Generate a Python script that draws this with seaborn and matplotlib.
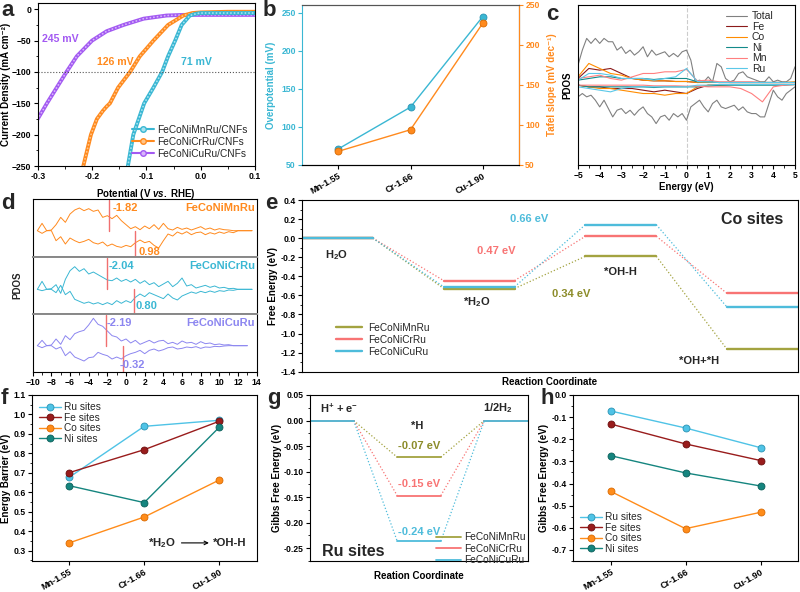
import numpy as np
import pandas as pd
import matplotlib
matplotlib.use("Agg")
import matplotlib.pyplot as plt
import seaborn as sns
from matplotlib.lines import Line2D
from matplotlib.ticker import MultipleLocator, FormatStrFormatter

sns.set_theme(style="ticks")
plt.rcParams['font.family'] = ['Liberation Sans', 'DejaVu Sans']
plt.rcParams.update({
    'font.size': 6.5, 'font.weight': 'bold', 'axes.labelweight': 'bold',
    'axes.linewidth': 0.8, 'xtick.major.width': 0.8, 'ytick.major.width': 0.8,
    'xtick.minor.width': 0.6, 'ytick.minor.width': 0.6,
    'xtick.major.size': 3, 'ytick.major.size': 3, 'xtick.minor.size': 1.8, 'ytick.minor.size': 1.8,
    'xtick.labelsize': 6.2, 'ytick.labelsize': 6.2, 'axes.labelsize': 7,
    'xtick.direction': 'out', 'ytick.direction': 'out', 'axes.edgecolor': 'black',
    'xtick.major.pad': 1.5, 'ytick.major.pad': 1.5, 'axes.labelpad': 1.5,
    'mathtext.fontset': 'custom', 'mathtext.rm': 'Liberation Sans:bold',
    'mathtext.it': 'Liberation Sans:italic:bold', 'mathtext.bf': 'Liberation Sans:bold',
    'mathtext.default': 'rm',
    'xtick.color': 'black', 'ytick.color': 'black', 'axes.labelcolor': 'black',
})

# ---------------- data ----------------
# panel a : LSV curves (V vs RHE, mA cm-2)
a_mn_v = [-0.134, -0.124, -0.104, -0.087, -0.071, -0.060, -0.047, -0.035, -0.020, -0.008, 0.0, 0.05, 0.1]
a_mn_j = [-250, -200, -150, -125, -100, -75, -50, -25, -10, -7, -6, -6, -6]
a_cr_v = [-0.216, -0.202, -0.191, -0.180, -0.173, -0.167, -0.152, -0.130, -0.112, -0.087, -0.060, -0.032, -0.015, 0.0, 0.05, 0.1]
a_cr_j = [-250, -200, -175, -162, -155, -150, -125, -100, -75, -50, -25, -10, -6, -5, -4, -4]
a_cu_v = [-0.300, -0.283, -0.265, -0.247, -0.228, -0.200, -0.173, -0.142, -0.105, -0.063, -0.032, 0.0, 0.05, 0.1]
a_cu_j = [-175, -150, -125, -100, -75, -50, -35, -25, -15, -10, -9, -9, -9, -9]
a_labels = ["FeCoNiMnRu/CNFs", "FeCoNiCrRu/CNFs", "FeCoNiCuRu/CNFs"]

# panel b
b_cats = ["Mn-1.55", "Cr-1.66", "Cu-1.90"]
b_overpot = [71, 126, 245]
b_tafel = [67, 94, 227]

# panel c : PDOS
c_energy_total = [-5.0, -4.8, -4.6, -4.4, -4.2, -4.0, -3.8, -3.6, -3.4, -3.2, -3.0, -2.8, -2.6, -2.4, -2.2,
                  -2.0, -1.8, -1.6, -1.4, -1.2, -1.0, -0.8, -0.6, -0.4, -0.2, 0.0, 0.2, 0.4, 0.6, 0.8,
                  1.0, 1.2, 1.4, 1.6, 1.8, 2.0, 2.2, 2.4, 2.6, 2.8, 3.0, 3.2, 3.4, 3.6, 3.8, 4.0, 4.2,
                  4.4, 4.6, 4.8, 5.0]
c_total_up = [5.5, 10, 13.5, 12, 13.5, 12, 13.5, 12.5, 12.5, 10, 11, 9, 10, 8.5, 9.5, 11, 8, 10, 8.5, 9,
              9.5, 8, 9, 8, 9.5, 10, 7, 0.5, 1, 0.5, 2, 0.5, 6, 5, 1.5, 0.5, 1, 3, 3.5, 2, 1.5, 1, 0.5,
              0.5, 2, 0.5, 1, 0.5, 0.5, 1.5, 5]
c_total_dn = [-4, -3, -4, -3.5, -5, -7, -5, -7.5, -10, -8, -7.5, -9, -8, -9.5, -8, -7, -9, -10, -12, -10,
              -9.5, -11, -9, -10, -9, -11, -7, -6, -5, -7, -8.5, -6, -5, -7, -7.5, -7, -6.5, -8, -7,
              -8.5, -9, -9, -10, -10, -6, -2, -4, -5, -3, -2, -1]
c_energy_el = [-5.0, -4.5, -4.0, -3.5, -3.0, -2.5, -2.0, -1.5, -1.0, -0.5, 0.0, 0.5, 1.0, 1.5, 2.0, 2.5,
               3.0, 3.5, 4.0, 4.5, 5.0]
c_fe_up = [1.5, 4.5, 4, 4.5, 3, 1.5, 1, 0.8, 0.8, 0.6, 0.6, 0.3, 0.4, 0.3, 0.3, 0.3, 0.3, 0.3, 0.3, 0.3, 0.3]
c_co_up = [2, 6, 4.5, 3, 2.5, 1.5, 1, 0.8, 0.8, 0.6, 0.6, 0.3, 0.3, 0.3, 0.3, 0.3, 0.3, 0.3, 0.3, 0.3, 0.5]
c_ni_up = [1, 1.5, 2, 2, 1.5, 1.5, 1.5, 1.2, 1.5, 1.5, 1.5, 0.5, 0.5, 0.3, 0.3, 0.3, 0.3, 0.3, 0.3, 0.3, 0.3]
c_mn_up = [1.5, 2, 2.5, 1.5, 1, 2, 3, 3, 3.5, 3.5, 4.2, 0.8, 1, 0.5, 0.5, 0.5, 0.5, 0.3, 0.3, 0.3, 0.3]
c_ru_up = [1, 3, 3, 2.5, 1.5, 1.5, 1.5, 1, 1.5, 2, 4.5, 0.6, 0.5, 0.3, 0.3, 0.3, 0.3, 0.3, 0.3, 0.3, 0.3]
c_fe_dn = [-0.5, -1, -1, -1.5, -1.5, -1.5, -2, -2.5, -2, -2.5, -3, -1.5, -0.5, -0.5, -0.3, -0.3, -0.3, -0.3, -0.3, -0.3, -0.3]
c_co_dn = [-0.5, -1, -1.5, -1.5, -2, -2.5, -3, -3, -3.5, -3, -3, -1, -0.5, -0.5, -0.3, -0.3, -0.3, -0.3, -0.3, -0.3, -0.3]
c_ni_dn = [-0.5, -1, -1, -1, -1, -1, -1, -1.2, -1, -1, -1, -1, -0.8, -0.5, -0.5, -0.5, -0.5, -0.5, -0.5, -0.5, -0.3]
c_mn_dn = [-0.5, -0.5, -0.5, -0.5, -0.5, -0.5, -0.5, -0.7, -0.7, -0.7, -0.8, -0.8, -1, -1, -1, -1.5, -3, -5.5, -1, -0.5, -0.3]
c_ru_dn = [-1, -1.5, -2, -2.5, -1.5, -1, -1, -1, -1, -1, -1, -0.5, -0.5, -0.3, -0.3, -0.3, -0.3, -0.3, -0.3, -0.3, -0.3]
c_names = ["Total", "Fe", "Co", "Ni", "Mn", "Ru"]

# panel d : d-band PDOS of the three alloys
d_energy = [-9.5, -9.0, -8.5, -8.0, -7.5, -7.0, -6.5, -6.0, -5.5, -5.0, -4.5, -4.0, -3.5, -3.0, -2.5, -2.0,
            -1.5, -1.0, -0.5, 0.0, 0.5, 1.0, 1.5, 2.0, 2.5, 3.0, 3.5, 4.0, 4.5, 5.0, 5.5, 6.0, 6.5, 7.0,
            7.5, 8.0, 8.5, 9.0, 9.5, 10.0, 10.5, 11.0, 11.5, 12.0, 12.5, 13.0, 13.5]
d_mn_up = [0, 22, 0, 2, 18, 40, 25, 50, 62, 68, 60, 66, 58, 62, 40, 45, 36, 46, 30, 18, 6, 12, 3, 14, 6, 18,
           4, 22, 6, 2, 10, 4, 8, 2, 7, 12, 4, 8, 2, 6, 3, 2, 0, 0, 0, 0, 0]
d_mn_dn = [0, -8, 0, 0, -30, -18, -40, -22, -30, -36, -32, -26, -36, -40, -34, -46, -40, -47, -50, -44, -48,
           -36, -28, -36, -32, -44, -52, -30, -10, -16, -4, -10, -3, -12, -6, -4, -12, -6, -10, -4, -8, -3,
           -6, 0, 0, 0, 0]
d_cr_up = [0, 24, 0, 2, 14, -12, 30, 56, 68, 54, 62, 46, 52, 44, 36, 28, 26, 34, 24, 30, 22, 30, 18, 26, 14,
           20, 8, 16, 24, 8, 18, 34, 10, 14, 4, 8, 12, 6, 10, 4, 6, 2, 3, 0, 0, 0, 0]
d_cr_dn = [0, -4, 0, 0, -10, 12, -16, -6, -30, -36, -42, -38, -44, -40, -46, -40, -46, -34, -42, -34, -40,
           -24, -14, -22, -10, -16, -22, -28, -14, -26, -32, -20, -14, -8, -12, -6, -10, -5, -9, -4, -6, -2,
           -3, 0, 0, 0, 0]
d_cu_up = [0, 16, 0, 2, 20, 4, 30, 18, 36, 42, 46, 62, 82, 64, 58, 44, 30, 26, 14, 20, 8, 16, 4, 10, 16, 8,
           14, 16, 6, 10, 4, 14, 8, 10, 4, 12, 6, 8, 3, 5, 2, 3, 0, 0, 0, 0, np.nan]
d_cu_dn = [0, -6, 0, 0, -10, -4, -30, -18, -34, -40, -46, -36, -34, -20, -26, -30, -40, -34, -40, -30, -24,
           -20, -14, -24, -14, -10, -16, -12, -6, -4, -10, -8, -4, -6, -3, -8, -4, -5, -2, -3, -1, 0, 0, 0,
           0, 0, np.nan]
d_names = ["FeCoNiMnRu", "FeCoNiCrRu", "FeCoNiCuRu"]
d_center_up = [-1.82, -2.04, -2.19]
d_center_dn = [0.98, 0.80, -0.32]

# panel e : free energy diagram, Co sites
e_steps = ["H$_2$O", "*H$_2$O", "*OH-H", "*OH+*H"]
e_mn = [0.0, -0.528, -0.19, -1.166]
e_cr = [0.0, -0.445, 0.02, -0.58]
e_cu = [0.0, -0.51, 0.141, -0.724]
e_names = ["FeCoNiMnRu", "FeCoNiCrRu", "FeCoNiCuRu"]
e_barriers = ["0.34 eV", "0.47 eV", "0.66 eV"]

# panel f : energy barrier
f_cats = ["Mn-1.55", "Cr-1.66", "Cu-1.90"]
f_ru = [0.677, 0.939, 0.970]
f_fe = [0.701, 0.819, 0.965]
f_co = [0.340, 0.473, 0.663]
f_ni = [0.634, 0.547, 0.934]

# panel g : HER on Ru sites
g_mn = -0.0717
g_cr = -0.147
g_cu = -0.236
g_labels = ["-0.07 eV", "-0.15 eV", "-0.24 eV"]

# panel h : Gibbs free energy of H
h_cats = ["Mn-1.55", "Cr-1.66", "Cu-1.90"]
h_ru = [-0.072, -0.149, -0.238]
h_fe = [-0.131, -0.221, -0.296]
h_co = [-0.435, -0.604, -0.530]
h_ni = [-0.274, -0.352, -0.411]
site_names = ["Ru sites", "Fe sites", "Co sites", "Ni sites"]

# ---------------- colours ----------------
CY, CY_L = '#3AB7D3', '#A6E3F0'
OR, OR_L = '#FF8A1E', '#FFC58A'
PU, PU_L = '#A35AF2', '#D7B6FA'
LAV = '#8C86F0'
RED_LINE = '#F07070'
E_MN, E_CR, E_CU = '#A3A340', '#F87474', '#4EBCDB'
S_RU, S_FE, S_CO, S_NI = '#4FC3E6', '#991C1C', '#FF8C1A', '#15857F'
S_RU_E, S_FE_E, S_CO_E, S_NI_E = '#2A93B3', '#6A0E0E', '#D96A00', '#0B5E59'

W, H = 800, 592
fig = plt.figure(figsize=(8, 5.92), dpi=100)


def add_ax(l, t, r, b):
    return fig.add_axes([l / W, 1 - b / H, (r - l) / W, (b - t) / H])


def plab(x, y, s):
    fig.text(x / W, 1 - y / H, s, fontsize=16, fontweight='bold', va='top', ha='left')


def rot_labels(ax):
    for lab in ax.get_xticklabels():
        lab.set_rotation(30)
        lab.set_ha('right')
        lab.set_rotation_mode('anchor')
        lab.set_fontsize(6.5)


# ================= panel a =================
ax = add_ax(37.7, 3, 255, 166)
for v, j, c, cl in [(a_cu_v, a_cu_j, PU, PU_L), (a_cr_v, a_cr_j, OR, OR_L), (a_mn_v, a_mn_j, CY, CY_L)]:
    sns.lineplot(x=v, y=j, ax=ax, color=c, lw=2.8, estimator=None, sort=True)
    ax.plot(v, j, color=cl, lw=1.3, dashes=(0.1, 1.9), dash_capstyle='round')
ax.axhline(-100, color='#555555', ls=':', lw=0.8)
ax.set_xlim(-0.3, 0.1)
ax.set_ylim(-250, 10)
ax.xaxis.set_major_locator(MultipleLocator(0.1))
ax.xaxis.set_minor_locator(MultipleLocator(0.05))
ax.yaxis.set_major_locator(MultipleLocator(50))
ax.yaxis.set_minor_locator(MultipleLocator(25))
ax.xaxis.set_major_formatter(FormatStrFormatter('%.1f'))
ax.set_xlabel(r"Potential (V $\mathit{vs.}$ RHE)", labelpad=4)
ax.set_ylabel("Current Density (mA cm⁻²)", labelpad=0.5)
ax.text(-0.292, -47, "245 mV", color=PU, fontsize=7.6, va='center')
ax.text(-0.19, -84, "126 mV", color=OR, fontsize=7.6, va='center')
ax.text(-0.037, -84, "71 mV", color=CY, fontsize=7.6, va='center')
hand = [Line2D([], [], color=c, marker='o', ms=4, mfc=cl, mec=c, lw=1.5) for c, cl in
        [(CY, CY_L), (OR, OR_L), (PU, PU_L)]]
ax.legend(hand, a_labels, loc='lower right', handlelength=2.2, handletextpad=0.3, labelspacing=0.2,
          borderaxespad=0.3, frameon=False, prop={'weight': 'normal', 'size': 7.3})
plab(1, 0, "a")

# ================= panel b =================
ax = add_ax(302, 4.7, 519, 165)
sns.lineplot(x=b_cats, y=b_overpot, ax=ax, color=CY, lw=1.0, marker='o', ms=5, mfc=CY, mec=S_RU_E,
             mew=0.6, sort=False)
ax.set_xlim(-0.5, 2.5)
ax.set_ylim(50, 260.5)
ax.yaxis.set_major_locator(MultipleLocator(50))
ax.set_ylabel("Overpotential (mV)", color=CY, labelpad=4)
ax.tick_params(axis='y', colors=CY)
ax.spines['left'].set_color(CY)
ax.spines['top'].set_color('#555555')
ax2 = ax.twinx()
sns.lineplot(x=b_cats, y=b_tafel, ax=ax2, color=OR, lw=1.0, marker='o', ms=5, mfc=OR, mec=S_CO_E,
             mew=0.6, sort=False)
ax2.set_ylim(50, 250)
ax2.yaxis.set_major_locator(MultipleLocator(50))
ax2.set_ylabel("Tafel slope (mV dec⁻¹)", color=OR, labelpad=5)
ax2.tick_params(axis='y', colors=OR)
ax2.spines['right'].set_color(OR)
ax2.spines['left'].set_visible(False)
ax2.spines['top'].set_color('#555555')
ax.set_xlabel("")
rot_labels(ax)
plab(263, 0, "b")

# ================= panel c =================
ax = add_ax(578, 5, 795, 165)
ax.axvline(0, color='#CCCCCC', ls='--', lw=0.8)
c_cols = ['#808080', '#8B1A1A', '#FF8C00', '#138A8A', '#FF7F7F', '#5BC8E8']
sns.lineplot(x=c_energy_total, y=c_total_up, ax=ax, color=c_cols[0], lw=0.8, estimator=None, label=c_names[0])
sns.lineplot(x=c_energy_total, y=c_total_dn, ax=ax, color=c_cols[0], lw=0.8, estimator=None)
for up, dn, col, nm in [(c_fe_up, c_fe_dn, c_cols[1], "Fe"), (c_co_up, c_co_dn, c_cols[2], "Co"),
                        (c_ni_up, c_ni_dn, c_cols[3], "Ni"), (c_mn_up, c_mn_dn, c_cols[4], "Mn"),
                        (c_ru_up, c_ru_dn, c_cols[5], "Ru")]:
    sns.lineplot(x=c_energy_el, y=up, ax=ax, color=col, lw=0.8, estimator=None, label=nm)
    sns.lineplot(x=c_energy_el, y=dn, ax=ax, color=col, lw=0.8, estimator=None)
ax.set_xlim(-5, 5)
ax.set_ylim(-24.4, 23.5)
ax.set_yticks([])
ax.xaxis.set_major_locator(MultipleLocator(1))
ax.xaxis.set_minor_locator(MultipleLocator(0.5))
ax.set_xlabel("Energy (eV)")
ax.set_ylabel("PDOS", labelpad=4)
ax.legend(loc='upper right', bbox_to_anchor=(0.93, 1.0), handlelength=2.0, handletextpad=0.5,
          labelspacing=0.05, borderaxespad=0.2, frameon=False, prop={'weight': 'normal', 'size': 7.5})
plab(546, 4, "c")

# ================= panel d =================
d_bounds = [(199, 256.7), (256.7, 314.3), (314.3, 371.7)]
d_ylims = [(-78, 95), (-75, 98), (-78, 94)]
d_cols = [OR, CY, LAV]
d_ups = [d_mn_up, d_cr_up, d_cu_up]
d_dns = [d_mn_dn, d_cr_dn, d_cu_dn]
d_txt_up = [(-1.43, 69), (-1.9, 71), (-2.07, 67)]
d_txt_dn = [(1.3, -63), (0.97, -50), (-0.64, -58)]
for i in range(3):
    ax = add_ax(32.7, d_bounds[i][0], 256.7, d_bounds[i][1])
    col = d_cols[i]
    sns.lineplot(x=d_energy, y=d_ups[i], ax=ax, color=col, lw=0.7, estimator=None)
    sns.lineplot(x=d_energy, y=d_dns[i], ax=ax, color=col, lw=0.7, estimator=None)
    lo, hi = d_ylims[i]
    ax.set_ylim(lo, hi)
    ax.set_xlim(-10, 14)
    base = (0 - lo) / (hi - lo)
    ax.axvline(d_center_up[i], ymin=base, ymax=0.98, color=RED_LINE, lw=1.0)
    ax.axvline(d_center_dn[i], ymin=0.0, ymax=base, color=RED_LINE, lw=1.0)
    ax.text(*d_txt_up[i], f"{d_center_up[i]:.2f}", color=col, fontsize=8, va='center')
    ax.text(*d_txt_dn[i], f"{d_center_dn[i]:.2f}", color=col, fontsize=8, va='center')
    ax.text(13.8, d_txt_up[i][1], d_names[i], color=col, fontsize=8, va='center', ha='right')
    ax.set_yticks([])
    ax.xaxis.set_major_locator(MultipleLocator(2))
    ax.xaxis.set_minor_locator(MultipleLocator(1))
    if i < 2:
        ax.tick_params(axis='x', which='both', bottom=False, labelbottom=False)
        ax.spines['bottom'].set_color('#888888')
        ax.spines['bottom'].set_linewidth(1.4)
    if i > 0:
        ax.spines['top'].set_color('#888888')
        ax.spines['top'].set_linewidth(1.4)
    ax.set_xlabel("")
fig.text(17 / W, 1 - 285 / H, "PDOS", rotation=90, fontsize=7, fontweight='bold', va='center', ha='center')
plab(1, 193, "d")

# ================= panel e =================
ax = add_ax(302, 200, 798, 371.7)
for E, col, nm in [(e_mn, E_MN, e_names[0]), (e_cr, E_CR, e_names[1]), (e_cu, E_CU, e_names[2])]:
    for k in range(4):
        ax.plot([2 * k, 2 * k + 1], [E[k], E[k]], color=col, lw=1.7, label=nm if k == 0 else None)
    for k in range(3):
        ax.plot([2 * k + 1, 2 * k + 2], [E[k], E[k + 1]], color=col, lw=0.9, ls=':')
ax.set_xlim(0, 7)
ax.set_ylim(-1.4, 0.4)
ax.set_xticks([])
ax.yaxis.set_major_locator(MultipleLocator(0.2))
ax.yaxis.set_minor_locator(MultipleLocator(0.1))
ax.yaxis.set_major_formatter(FormatStrFormatter('%.1f'))
ax.set_xlabel("Reaction Coordinate", labelpad=4)
ax.set_ylabel("Free Energy (eV)")
ax.text(0.48, -0.18, e_steps[0], fontsize=8, ha='center', va='center')
ax.text(2.46, -0.67, e_steps[1], fontsize=8, ha='center', va='center')
ax.text(4.5, -0.36, e_steps[2], fontsize=8, ha='center', va='center')
ax.text(5.6, -1.29, e_steps[3], fontsize=8, ha='center', va='center')
ax.text(3.2, 0.2, e_barriers[2], color=E_CU, fontsize=8, ha='center', va='center')
ax.text(2.74, -0.135, e_barriers[1], color=E_CR, fontsize=8, ha='center', va='center')
ax.text(3.8, -0.585, e_barriers[0], color='#8C8C2A', fontsize=8, ha='center', va='center')
ax.text(6.35, 0.2, "Co sites", fontsize=11.5, ha='center', va='center')
ax.legend(loc='upper left', bbox_to_anchor=(0.06, 0.31), handlelength=2.6, handletextpad=0.6,
          labelspacing=0.2, borderaxespad=0, frameon=False, prop={'weight': 'normal', 'size': 7.3})
plab(265, 193, "e")


# ================= panels f, h helpers =================
def site_lines(ax, cats, series):
    for ys, col, ec, nm in series:
        sns.lineplot(x=cats, y=ys, ax=ax, color=col, lw=1.0, marker='o', ms=5, mfc=col, mec=ec, mew=0.6,
                     sort=False, label=nm)
    ax.set_xlim(-0.5, 2.5)
    ax.set_xlabel("")
    rot_labels(ax)


# ================= panel f =================
ax = add_ax(31.7, 395, 256.7, 561)
site_lines(ax, f_cats, [(f_ru, S_RU, S_RU_E, site_names[0]), (f_fe, S_FE, S_FE_E, site_names[1]),
                        (f_co, S_CO, S_CO_E, site_names[2]), (f_ni, S_NI, S_NI_E, site_names[3])])
ax.set_ylim(0.247, 1.1)
ax.yaxis.set_major_locator(MultipleLocator(0.1))
ax.yaxis.set_minor_locator(MultipleLocator(0.05))
ax.yaxis.set_major_formatter(FormatStrFormatter('%.1f'))
ax.set_ylabel("Energy Barrier (eV)")
ax.legend(loc='upper left', handlelength=2.2, handletextpad=0.3, labelspacing=0.05, borderaxespad=0.3,
          frameon=False, prop={'weight': 'normal', 'size': 7.3})
ax.text(1.42, 0.34, "*H$_2$O", fontsize=8.2, ha='right', va='center')
ax.annotate("", xy=(1.9, 0.34), xytext=(1.46, 0.34),
            arrowprops=dict(arrowstyle='->', color='black', lw=0.8))
ax.text(1.91, 0.34, "*OH-H", fontsize=8.2, ha='left', va='center')
plab(1, 388, "f")

# ================= panel g =================
ax = add_ax(310, 395, 528, 561)
for E, col, nm in [(g_mn, E_MN, e_names[0]), (g_cr, E_CR, e_names[1]), (g_cu, E_CU, e_names[2])]:
    lv = [0.0, E, 0.0]
    for k in range(3):
        ax.plot([2 * k, 2 * k + 1], [lv[k], lv[k]], color=col, lw=1.3, label=nm if k == 1 else None)
    for k in range(2):
        ax.plot([2 * k + 1, 2 * k + 2], [lv[k], lv[k + 1]], color=col, lw=0.9, ls=':')
ax.set_xlim(0, 5)
ax.set_ylim(-0.275, 0.05)
ax.set_xticks([])
ax.yaxis.set_major_locator(MultipleLocator(0.05))
ax.yaxis.set_minor_locator(MultipleLocator(0.025))
ax.yaxis.set_major_formatter(FormatStrFormatter('%.2f'))
ax.set_xlabel("Reation Coordinate", labelpad=7)
ax.set_ylabel("Gibbs Free Energy (eV)")
ax.text(0.23, 0.024, "H$^{+}$ + e$^{-}$", fontsize=8, ha='left', va='center')
ax.text(2.45, -0.011, "*H", fontsize=8, ha='center', va='center')
ax.text(3.97, 0.024, "1/2H$_2$", fontsize=8, ha='left', va='center')
ax.text(2.5, -0.05, g_labels[0], color='#8C8C2A', fontsize=8, ha='center', va='center')
ax.text(2.5, -0.125, g_labels[1], color=E_CR, fontsize=8, ha='center', va='center')
ax.text(2.5, -0.218, g_labels[2], color=E_CU, fontsize=8, ha='center', va='center')
ax.text(0.28, -0.257, "Ru sites", fontsize=11.5, ha='left', va='center')
ax.legend(loc='lower right', bbox_to_anchor=(1.01, -0.05), handlelength=2.4, handletextpad=0.4,
          labelspacing=0.15, borderaxespad=0, frameon=False, prop={'weight': 'normal', 'size': 7.3})
plab(267, 388, "g")

# ================= panel h =================
ax = add_ax(573, 395, 798, 561)
site_lines(ax, h_cats, [(h_ru, S_RU, S_RU_E, site_names[0]), (h_fe, S_FE, S_FE_E, site_names[1]),
                        (h_co, S_CO, S_CO_E, site_names[2]), (h_ni, S_NI, S_NI_E, site_names[3])])
ax.set_ylim(-0.75, 0.0)
ax.yaxis.set_major_locator(MultipleLocator(0.1))
ax.yaxis.set_minor_locator(MultipleLocator(0.05))
ax.yaxis.set_major_formatter(FormatStrFormatter('%.1f'))
ax.set_ylabel("Gibbs Free Energy (eV)")
ax.legend(loc='lower left', handlelength=2.2, handletextpad=0.3, labelspacing=0.05, borderaxespad=0.3,
          frameon=False, prop={'weight': 'normal', 'size': 7.3})
plab(540, 388, "h")

fig.savefig("out.png", dpi=100)
